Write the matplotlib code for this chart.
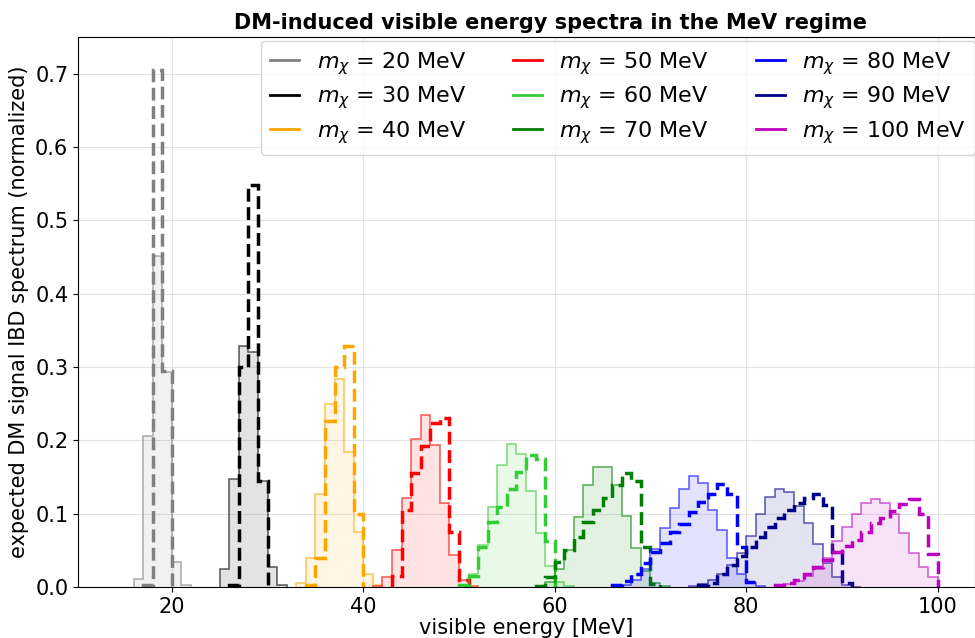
import matplotlib
matplotlib.use("Agg")
import matplotlib.pyplot as plt
from matplotlib.lines import Line2D
import numpy as np

masses = [20, 30, 40, 50, 60, 70, 80, 90, 100]
colors = ["gray", "black", "orange", "red", "limegreen", "green", "blue", "darkblue", "m"]

# first bin lower edge (MeV) for each spectrum; bins are 1 MeV wide
solid_start = [16, 25, 33, 41, 50, 58, 67, 74, 83]
dashed_start = [17, 26, 34, 43, 50, 58, 66, 75, 83]

solid_20 = [0.011, 0.206, 0.451, 0.293, 0.034, 0.003]
solid_30 = [0.025, 0.147, 0.328, 0.320, 0.145, 0.027, 0.002]
solid_40 = [0.005, 0.040, 0.127, 0.249, 0.283, 0.184, 0.075, 0.018, 0.002]
solid_50 = [0.001, 0.013, 0.050, 0.122, 0.202, 0.234, 0.193, 0.114, 0.044, 0.009, 0.001]
solid_60 = [0.003, 0.017, 0.057, 0.109, 0.166, 0.195, 0.181, 0.131, 0.074, 0.029, 0.007, 0.0015]
solid_70 = [0.001, 0.007, 0.024, 0.051, 0.095, 0.139, 0.164, 0.164, 0.139, 0.097, 0.053, 0.022, 0.005, 0.001]
solid_80 = [0.002, 0.010, 0.025, 0.052, 0.080, 0.107, 0.133, 0.151, 0.142, 0.105, 0.078, 0.040, 0.018, 0.005, 0.001]
solid_90 = [0.001, 0.004, 0.010, 0.018, 0.030, 0.046, 0.069, 0.100, 0.123, 0.133, 0.130, 0.111, 0.087,
            0.058, 0.032, 0.014, 0.003, 0.0005]
solid_100 = [0.002, 0.004, 0.008, 0.015, 0.025, 0.040, 0.062, 0.082, 0.100, 0.115, 0.120, 0.115, 0.100,
             0.073, 0.046, 0.027, 0.013]

dashed_20 = [0.002, 0.705, 0.295]
dashed_30 = [0.003, 0.300, 0.548, 0.145]
dashed_40 = [0.002, 0.040, 0.227, 0.300, 0.328, 0.100]
dashed_50 = [0.015, 0.105, 0.155, 0.192, 0.223, 0.230, 0.075, 0.010]
dashed_60 = [0.002, 0.015, 0.054, 0.088, 0.109, 0.133, 0.157, 0.180, 0.174, 0.063]
dashed_70 = [0.001, 0.014, 0.034, 0.051, 0.068, 0.088, 0.105, 0.122, 0.139, 0.156, 0.145, 0.054, 0.004]
dashed_80 = [0.003, 0.008, 0.017, 0.032, 0.048, 0.060, 0.075, 0.086, 0.102, 0.116, 0.127, 0.141,
             0.127, 0.054, 0.007]
dashed_90 = [0.002, 0.006, 0.018, 0.030, 0.042, 0.054, 0.068, 0.082, 0.094, 0.105, 0.114, 0.121,
             0.127, 0.112, 0.047, 0.006]
dashed_100 = [0.002, 0.005, 0.010, 0.017, 0.027, 0.037, 0.048, 0.056, 0.064, 0.075, 0.087, 0.094,
              0.103, 0.113, 0.120, 0.100, 0.045]

solid_vals = [solid_20, solid_30, solid_40, solid_50, solid_60, solid_70, solid_80, solid_90, solid_100]
dashed_vals = [dashed_20, dashed_30, dashed_40, dashed_50, dashed_60, dashed_70, dashed_80, dashed_90, dashed_100]

fig = plt.figure(figsize=(9.75, 6.38), dpi=100)
ax = fig.add_axes([0.080, 0.080, 0.920, 0.862])

for c, s0, sv, d0, dv in zip(colors, solid_start, solid_vals, dashed_start, dashed_vals):
    se = np.arange(s0, s0 + len(sv) + 1)
    ax.stairs(sv, se, fill=True, color=c, alpha=0.11, linewidth=0)
    ax.stairs(sv, se, color=c, alpha=0.6, linewidth=1.2)
    de = np.arange(d0, d0 + len(dv) + 1)
    ax.stairs(dv, de, color=c, linestyle="--", linewidth=2.5)

ax.set_xlim(10.2, 103.9)
ax.set_ylim(0, 0.75)
ax.set_xticks([20, 40, 60, 80, 100])
ax.set_yticks(np.arange(0, 0.71, 0.1))
ax.tick_params(labelsize=15)
ax.grid(True, color="#dddddd", linewidth=0.8, alpha=0.8)
ax.set_axisbelow(True)
ax.set_xlabel("visible energy [MeV]", fontsize=15, labelpad=1)
ax.set_ylabel("expected DM signal IBD spectrum (normalized)", fontsize=15, labelpad=4)
ax.set_title("DM-induced visible energy spectra in the MeV regime", fontsize=15, fontweight="bold",
             pad=6, x=0.527)

handles = [Line2D([0], [0], color=c, linewidth=2) for c in colors]
labels = [r"$m_\chi$ = %d MeV" % m for m in masses]
ax.legend(handles, labels, ncol=3, loc="upper right", bbox_to_anchor=(1.0, 0.993), fontsize=16,
          columnspacing=2.1, handlelength=1.3, borderaxespad=0.0, labelspacing=0.35)

fig.savefig("out.png", dpi=100)
